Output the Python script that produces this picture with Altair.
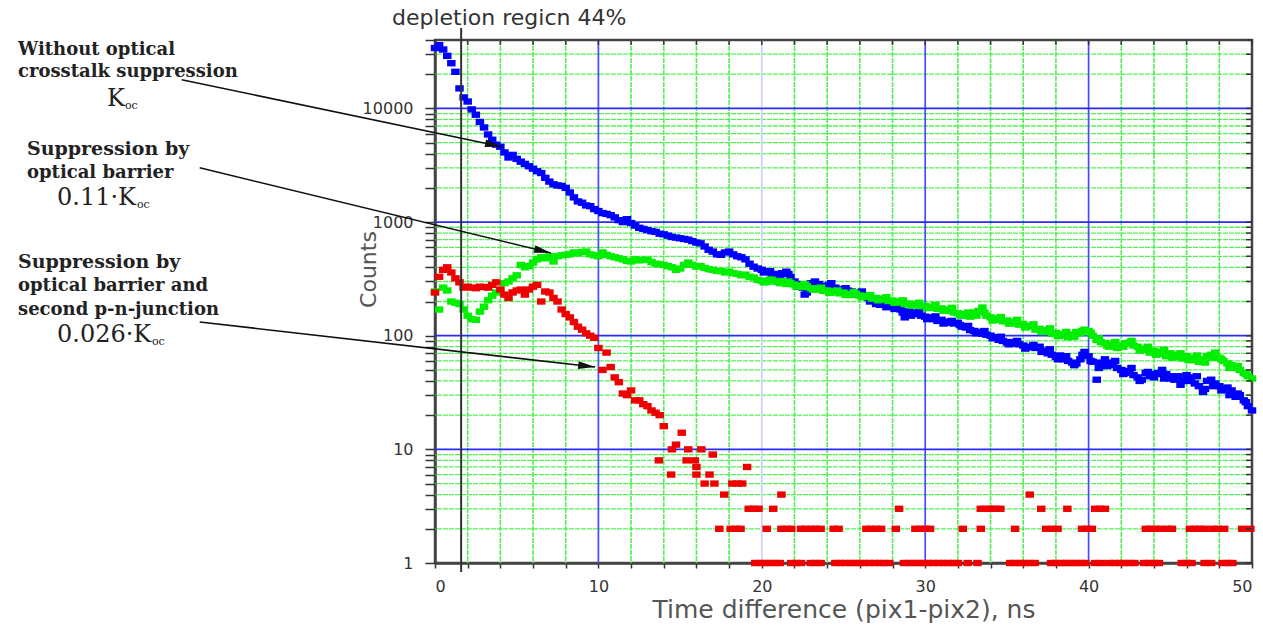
import altair as alt
import pandas as pd

# ---------------- data ----------------
# time bins (ns) at 0.25 ns spacing, 0 .. 50
TIME_NS = [i * 0.25 for i in range(201)]

# Without optical crosstalk suppression (blue)
BLUE_COUNTS = [
    34000, 36000, 33000, 29000,   # 0
    25000, 21000, 15000, 12500,   # 1
    11500, 9800, 8800, 7600,      # 2
    6800, 5900, 5300, 4800,       # 3
    4600, 4100, 3700, 3900,       # 4
    3600, 3400, 3250, 3100,       # 5
    2950, 2800, 2700, 2450,       # 6
    2270, 2150, 2100, 2080,       # 7
    2000, 1820, 1650, 1520,       # 8
    1480, 1400, 1380, 1300,       # 9
    1250, 1200, 1180, 1150,       # 10
    1100, 1040, 1000, 1060,       # 11
    980, 930, 890, 870,           # 12
    850, 830, 820, 790,           # 13
    780, 760, 740, 730,           # 14
    720, 710, 700, 680,           # 15
    660, 650, 610, 570,           # 16
    550, 520, 515, 540,           # 17
    550, 520, 500, 490,           # 18
    470, 430, 405, 390,           # 19
    380, 366, 370, 350,           # 20
    340, 355, 366, 330,           # 21
    300, 270, 265, 240,           # 22
    290, 300, 285, 275,           # 23
    270, 290, 265, 255,           # 24
    255, 250, 245, 240,           # 25
    235, 220, 215, 205,           # 26
    190, 187, 200, 185,           # 27
    180, 190, 170, 145,           # 28
    165, 160, 155, 150,           # 29
    147, 145, 140, 135,           # 30
    138, 130, 133, 128,           # 31
    130, 120, 118, 112,           # 32
    110, 108, 104, 102,           # 33
    100, 97, 92, 90,              # 34
    87, 88, 85, 84,               # 35
    82, 80, 79, 78,               # 36
    80, 74, 70, 68,               # 37
    65, 67, 62, 60,               # 38
    58, 57, 62, 72,               # 39
    66, 59, 41, 58,               # 40
    62, 55, 58, 52,               # 41
    50, 47, 49, 45,               # 42
    43, 41, 47, 44,               # 43
    43, 47, 50, 46,               # 44
    42, 41, 44, 40,               # 45
    45, 43, 38, 36,               # 46
    32, 40, 41, 38,               # 47
    36, 34, 35, 33,               # 48
    29, 30, 27, 24,               # 49
    22,                           # 50
]

# Suppression by optical barrier (green)
GREEN_COUNTS = [
    245, 170, 265, 250,   # 0
    200, 195, 190, 170,   # 1
    150, 140, 138, 163,   # 2
    180, 205, 225, 240,   # 3
    250, 290, 300, 320,   # 4
    340, 420, 400, 410,   # 5
    440, 470, 490, 480,   # 6
    500, 450, 500, 510,   # 7
    515, 520, 540, 530,   # 8
    545, 550, 520, 510,   # 9
    500, 540, 515, 500,   # 10
    490, 480, 470, 455,   # 11
    450, 470, 460, 465,   # 12
    465, 445, 430, 425,   # 13
    420, 410, 400, 380,   # 14
    390, 420, 440, 420,   # 15
    405, 410, 395, 385,   # 16
    380, 372, 370, 360,   # 17
    366, 355, 350, 340,   # 18
    345, 330, 325, 310,   # 19
    305, 296, 312, 300,   # 20
    298, 303, 285, 290,   # 21
    282, 276, 268, 272,   # 22
    262, 255, 262, 248,   # 23
    250, 240, 246, 236,   # 24
    240, 232, 228, 234,   # 25
    226, 220, 224, 212,   # 26
    215, 208, 212, 202,   # 27
    204, 196, 200, 190,   # 28
    192, 185, 190, 182,   # 29
    183, 176, 180, 172,   # 30
    174, 166, 170, 160,   # 31
    158, 150, 155, 147,   # 32
    160, 165, 177, 150,   # 33
    145, 138, 142, 134,   # 34
    136, 128, 133, 125,   # 35
    127, 120, 122, 113,   # 36
    115, 108, 112, 104,   # 37
    106, 100, 103, 97,    # 38
    102, 108, 105, 113,   # 39
    110, 100, 92, 88,     # 40
    86, 80, 84, 78,       # 41
    82, 86, 87, 82,       # 42
    80, 75, 77, 71,       # 43
    74, 69, 72, 66,       # 44
    70, 65, 68, 63,       # 45
    66, 61, 64, 59,       # 46
    62, 66, 68, 71,       # 47
    64, 60, 57, 55,       # 48
    52, 50, 47, 44,       # 49
    42,                   # 50
]

# extra scattered readings in the noisy 20-50 ns part (0.5 ns apart, from 20.125)
EXTRA_T = [20.125 + 0.5 * k for k in range(60)]
BLUE_EXTRA = [
    360, 345, 330, 350, 285, 230, 275, 265, 280, 250,
    262, 230, 245, 200, 195, 178, 172, 160, 150, 162,
    140, 148, 128, 135, 124, 122, 105, 110, 95, 98,
    84, 90, 77, 83, 72, 76, 62, 66, 55, 68,
    60, 52, 54, 60, 46, 52, 40, 48, 46, 42,
    44, 37, 40, 44, 34, 36, 33, 30, 31, 26,
]
GREEN_EXTRA = [
    295, 310, 290, 300, 270, 285, 255, 265, 238, 250,
    228, 242, 218, 228, 205, 218, 195, 205, 184, 195,
    175, 186, 166, 176, 152, 160, 150, 160, 136, 146,
    128, 138, 118, 126, 108, 116, 99, 108, 98, 110,
    106, 95, 82, 88, 80, 90, 74, 80, 68, 75,
    64, 70, 61, 67, 58, 64, 62, 52, 54, 46,
]

# Suppression by optical barrier and second p-n-junction (red), 0 .. 14 ns
RED_COUNTS_EARLY = [
    240, 330, 380, 400,   # 0
    360, 320, 295, 265,   # 1
    270, 265, 262, 270,   # 2
    268, 265, 280, 295,   # 3
    255, 230, 215, 240,   # 4
    250, 255, 230, 255,   # 5
    270, 280, 200, 245,   # 6
    240, 215, 200, 170,   # 7
    155, 145, 132, 120,   # 8
    113, 105, 100, 96,    # 9
    78, 50, 71, 53,       # 10
    43, 39, 31, 30,       # 11
    33, 27, 27, 25,       # 12
    24, 22, 21, 20,       # 13
    16,                   # 14
]

# red tail: times (ns) at which each small integer count was recorded
RED_TAIL = {
    1: [19.6, 19.9, 20.2, 20.5, 20.8, 21.1, 21.8, 22.1, 22.4, 23.0, 23.3, 23.6,
        24.5, 24.8, 25.1, 25.4, 25.7, 26.0, 26.3, 26.6, 26.9, 27.2, 27.5, 27.8,
        28.7, 29.0, 29.3, 29.6, 29.9, 30.2, 30.5, 30.8, 31.1, 31.4, 31.7, 32.0,
        32.6, 33.2, 35.2, 35.5, 35.8, 36.1, 36.4, 36.7, 37.7, 38.0, 38.3, 38.6,
        38.9, 39.2, 39.5, 39.8, 40.4, 40.8, 41.3, 41.6, 41.9, 42.2, 42.5, 42.8,
        43.4, 43.7, 44.0, 44.3, 45.7, 46.0, 46.3, 47.1, 47.5, 48.2, 48.5, 48.8],
    2: [17.4, 18.1, 18.4, 18.7, 20.3, 21.2, 21.5, 21.8, 22.4, 22.7, 23.0, 23.3,
        23.6, 24.4, 24.7, 26.4, 26.7, 27.0, 27.3, 28.2, 29.4, 29.7, 30.0, 30.3,
        32.3, 33.4, 35.5, 37.4, 37.8, 38.1, 39.6, 39.9, 40.2, 43.5, 43.8, 44.1,
        44.4, 44.8, 45.1, 46.2, 46.5, 46.8, 47.1, 47.6, 47.9, 48.3, 49.4, 49.9],
    3: [19.2, 19.5, 19.8, 20.7, 28.4, 33.4, 33.7, 34.0, 34.3, 34.6, 37.1, 38.7,
        40.4, 40.7, 41.0],
    4: [17.7, 21.2, 36.4],
    5: [16.5, 17.1, 18.2, 18.5, 18.8],
    6: [14.45, 16.0, 16.8],
    7: [16.0, 19.1],
    8: [13.7, 15.4, 15.9],
    9: [17.0],
    10: [14.5, 15.5, 16.3],
    11: [14.75],
    14: [15.1],
}

# axis ticks / grid
X_TICKS = list(range(0, 51, 2))
X_MINOR_GRID = [2, 4, 6, 8, 12, 14, 16, 18, 22, 24, 26, 28, 32, 34, 36, 38,
                42, 44, 46, 48]
X_MAJOR_GRID = [10, 20, 30, 40]
Y_TICKS = [1, 2, 3, 4, 5, 6, 7, 8, 9,
           10, 20, 30, 40, 50, 60, 70, 80, 90,
           100, 200, 300, 400, 500, 600, 700, 800, 900,
           1000, 2000, 3000, 4000, 5000, 6000, 7000, 8000, 9000,
           10000, 20000, 30000, 40000]
Y_MAJOR_GRID = [10, 100, 1000, 10000]
Y_MINOR_GRID = [2, 3, 4, 5, 6, 7, 8, 9,
                20, 30, 40, 50, 60, 70, 80, 90,
                200, 300, 400, 500, 600, 700, 800, 900,
                2000, 3000, 4000, 5000, 6000, 7000, 8000, 9000,
                20000, 30000]

DEPLETION_NS = 1.6

# annotation arrows (data coordinates: start -> end)
ARROW_FROM_T = [-15.5, -14.4, -14.4]
ARROW_FROM_C = [17900, 3000, 132]
ARROW_TO_T = [4.1, 7.1, 9.8]
ARROW_TO_C = [4600, 535, 53]

# ---------------- layout ----------------
W, H = 817, 523
LEFT, TOP = 435, 40

x_scale = alt.Scale(domain=[0, 50], nice=False, zero=False)
y_scale = alt.Scale(type="log", domain=[1, 40000], nice=False)

X_AXIS = alt.Axis(
    values=X_TICKS, format="d",
    labelExpr="datum.value % 10 == 0 ? datum.label : ''",
    labelOverlap=False, grid=False,
    tickSize=5, tickWidth=1.5, tickColor="#333",
    domainColor="#444", domainWidth=2.5,
    labelFont="DejaVu Sans", labelFontSize=16, labelColor="#333", labelPadding=10,
    title="Time difference (pix1-pix2), ns",
    titleFont="DejaVu Sans", titleFontSize=25, titleFontWeight="normal",
    titleColor="#555", titleY=54, titleBaseline="alphabetic",
)
Y_AXIS = alt.Axis(
    values=Y_TICKS, format="d",
    labelExpr="indexof([1,10,100,1000,10000], datum.value) >= 0 ? datum.label : ''",
    labelOverlap=False, grid=False,
    tickSize=10, tickWidth=1.5, tickColor="#333",
    domainColor="#444", domainWidth=2.5,
    labelFont="DejaVu Sans", labelFontSize=16, labelColor="#333", labelPadding=12,
    title="Counts",
    titleFont="DejaVu Sans", titleFontSize=22, titleFontWeight="normal",
    titleColor="#555", titleAngle=270, titleX=-60, titleY=229,
    titleAlign="center", titleBaseline="alphabetic",
)


def xq(field):
    return alt.X(f"{field}:Q", scale=x_scale, axis=X_AXIS)


def yq(field):
    return alt.Y(f"{field}:Q", scale=y_scale, axis=Y_AXIS)


# ---------------- grid ----------------
ygrid_minor = alt.Chart(pd.DataFrame({"v": Y_MINOR_GRID})).mark_rule(
    color="#44ee44", strokeWidth=1.3, strokeDash=[5, 1], opacity=0.9
).encode(y=yq("v"))
xgrid_minor = alt.Chart(pd.DataFrame({"v": X_MINOR_GRID})).mark_rule(
    color="#44ee44", strokeWidth=1.6, strokeDash=[5, 1], opacity=0.9
).encode(x=xq("v"))
ygrid_major = alt.Chart(pd.DataFrame({"v": Y_MAJOR_GRID})).mark_rule(
    color="#2a2aff", strokeWidth=1.7
).encode(y=yq("v"))
xgrid_major = alt.Chart(pd.DataFrame({"v": X_MAJOR_GRID})).mark_rule(
    strokeWidth=1.7
).encode(
    x=xq("v"),
    color=alt.condition(alt.datum.v == 20, alt.value("#cfcfff"), alt.value("#4a4aff")),
)

# ---------------- data points ----------------
SQUARE = "M-1.2,-0.9H1.2V0.9H-1.2Z"

blue_df = pd.DataFrame({"t": TIME_NS + EXTRA_T, "c": BLUE_COUNTS + BLUE_EXTRA})
green_df = pd.DataFrame({"t": TIME_NS + EXTRA_T, "c": GREEN_COUNTS + GREEN_EXTRA})
red_t = TIME_NS[: len(RED_COUNTS_EARLY)]
red_c = list(RED_COUNTS_EARLY)
for count, times in RED_TAIL.items():
    red_t += times
    red_c += [count] * len(times)
red_df = pd.DataFrame({"t": red_t, "c": red_c})


def pts(df, color):
    return alt.Chart(df).mark_point(
        shape=SQUARE, size=50, filled=True, opacity=1, color=color, strokeWidth=0
    ).encode(x=xq("t"), y=yq("c"))


blue = pts(blue_df, "#0000ff")
green = pts(green_df, "#00ee00")
red = pts(red_df, "#ee0000")

# ---------------- frame ticks (top & right, inward) ----------------
top_ticks = alt.Chart(pd.DataFrame({"v": X_TICKS})).mark_rule(
    color="#333", strokeWidth=1.5
).encode(x=xq("v"), y=alt.value(0), y2=alt.value(5))
right_ticks = alt.Chart(pd.DataFrame({"v": Y_TICKS})).mark_rule(
    color="#333", strokeWidth=1.5
).encode(y=yq("v"), x=alt.value(W - 6), x2=alt.value(W))

# ---------------- depletion region line ----------------
depl = alt.Chart(pd.DataFrame({"v": [DEPLETION_NS]})).mark_rule(
    color="#333", strokeWidth=2
).encode(x=xq("v"), y=alt.value(-12), y2=alt.value(H + 9))


def note(text, cx, cy, size, weight="normal", font="DejaVu Sans",
         color="#222", align="left"):
    return alt.Chart(alt.Data(values=[{}])).mark_text(
        text=text, font=font, fontSize=size, fontWeight=weight,
        align=align, baseline="alphabetic", color=color
    ).encode(x=alt.value(cx - LEFT), y=alt.value(cy - TOP))


depl_label = note("depletion regicn 44%", 392, 25, 22, color="#333")

# ---------------- arrows ----------------
arrow_df = pd.DataFrame({"t0": ARROW_FROM_T, "c0": ARROW_FROM_C,
                         "t1": ARROW_TO_T, "c1": ARROW_TO_C})
arrow_lines = alt.Chart(arrow_df).mark_rule(color="#111", strokeWidth=1.6).encode(
    x=xq("t0"), y=yq("c0"), x2="t1:Q", y2="c1:Q"
)
HEAD = "M0,0L-2,-0.45L-2,0.45Z"
ARROW_ANGLES = [11.8, 13.6, 6.5]
heads = []
for i, ang in enumerate(ARROW_ANGLES):
    heads.append(
        alt.Chart(arrow_df.iloc[[i]]).mark_point(
            shape=HEAD, size=289, filled=True, color="#111", opacity=1,
            angle=ang, strokeWidth=0
        ).encode(x=xq("t1"), y=yq("c1"))
    )

# ---------------- left annotation texts ----------------
SERIF = "DejaVu Serif"
texts = [
    note("Without optical", 18, 55, 18, "bold", SERIF),
    note("crosstalk suppression", 18, 77, 18, "bold", SERIF),
    note("K", 107, 106, 24, "normal", SERIF),
    note("oc", 125, 109, 11, "normal", SERIF),
    note("Suppression by", 27, 155, 19, "bold", SERIF),
    note("optical barrier", 27, 178, 18, "bold", SERIF),
    note("0.11\u00b7K", 57, 205, 24, "normal", SERIF),
    note("oc", 137, 208, 11, "normal", SERIF),
    note("Suppression by", 18, 268, 19, "bold", SERIF),
    note("optical barrier and", 18, 291, 18, "bold", SERIF),
    note("second p-n-junction", 18, 315, 18, "bold", SERIF),
    note("0.026\u00b7K", 57, 342, 24, "normal", SERIF),
    note("oc", 152, 345, 11, "normal", SERIF),
]

chart = alt.layer(
    xgrid_minor, ygrid_minor, xgrid_major, ygrid_major,
    blue, green, red,
    top_ticks, right_ticks, depl, depl_label,
    arrow_lines, *heads, *texts,
).properties(
    width=W, height=H,
    autosize=alt.AutoSizeParams(type="none"),
    padding={"left": LEFT, "top": TOP, "right": 1263 - LEFT - W,
             "bottom": 626 - TOP - H},
    background="white",
).configure_view(stroke="#444", strokeWidth=2.5)

chart.save("out.html", embed_options={"renderer": "svg", "actions": False})
